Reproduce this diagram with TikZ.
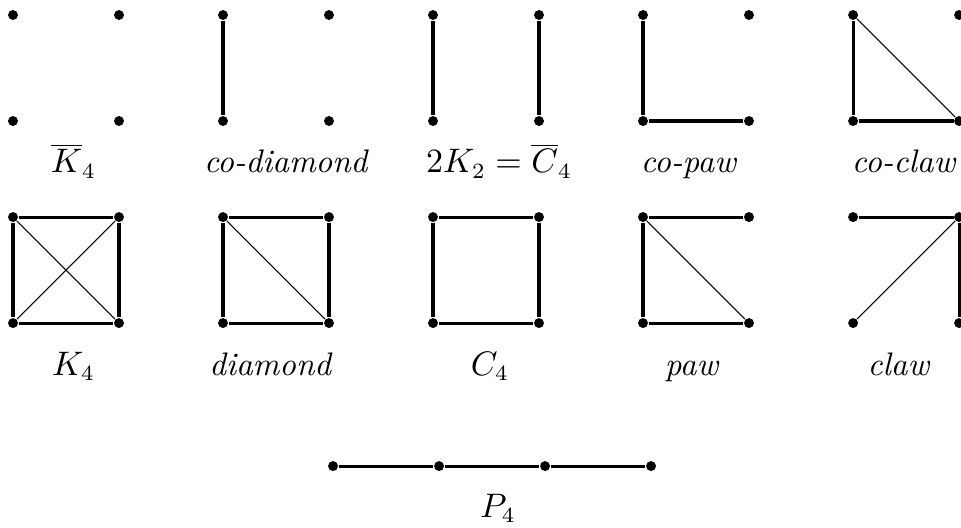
\documentclass[tikz,border=0pt]{standalone}
\usetikzlibrary{positioning}

\begin{document}
\begin{tikzpicture}[
  x=1.2cm, y=-1.2cm,
  vertex/.style={circle, fill, inner sep=0pt, minimum size=3.2pt},
  edge/.style={line width=1pt},
  diag/.style={line width=0.35pt},
  lab/.style={anchor=base, inner sep=0pt, font=\fontsize{10.5}{12}\selectfont}
]
\useasboundingbox (-0.1226,-0.1415) rectangle (8.943,4.83);
% four vertices per graph: tl, tr, bl, br
\foreach \g/\x/\y in {kb/0/0, cd/1.981/0, tk/3.962/0, cp/5.943/0, cc/7.925/0,
                      k/0/1.906, d/1.981/1.906, c/3.962/1.906, p/5.943/1.906, w/7.925/1.906} {
  \node[vertex] (\g-tl) at (\x,\y) {};
  \node[vertex] (\g-tr) at (\x+1,\y) {};
  \node[vertex] (\g-bl) at (\x,\y+1) {};
  \node[vertex] (\g-br) at (\x+1,\y+1) {};
}
% first row
\draw[edge] (cd-tl) -- (cd-bl);
\draw[edge] (tk-tl) -- (tk-bl);
\draw[edge] (tk-tr) -- (tk-br);
\draw[edge] (cp-tl) -- (cp-bl) -- (cp-br);
\draw[edge] (cc-tl) -- (cc-bl) -- (cc-br);
\draw[diag] (cc-tl) -- (cc-br);
% second row
\draw[edge] (k-tl) -- (k-tr) -- (k-br) -- (k-bl) -- (k-tl);
\draw[diag] (k-tl) -- (k-br);
\draw[diag] (k-tr) -- (k-bl);
\draw[edge] (d-tl) -- (d-tr) -- (d-br) -- (d-bl) -- (d-tl);
\draw[diag] (d-tl) -- (d-br);
\draw[edge] (c-tl) -- (c-tr) -- (c-br) -- (c-bl) -- (c-tl);
\draw[edge] (p-tr) -- (p-tl) -- (p-bl) -- (p-br);
\draw[diag] (p-tl) -- (p-br);
\draw[edge] (w-tl) -- (w-tr) -- (w-br);
\draw[diag] (w-tr) -- (w-bl);
% path on four vertices
\node[vertex] (p4a) at (3.019,4.255) {};
\node[vertex] (p4b) at (4.019,4.255) {};
\node[vertex] (p4c) at (5.019,4.255) {};
\node[vertex] (p4d) at (6.019,4.255) {};
\draw[edge] (p4a) -- (p4b) -- (p4c) -- (p4d);
% labels
\node[lab] (l-kb) at (0.571,1.49) {$\overline{K}_4$};
\node[lab] (l-cd) at (2.580,1.49) {\textit{co-diamond}};
\node[lab] (l-tk) at (4.585,1.49) {$2K_2=\overline{C}_4$};
\node[lab] (l-cp) at (6.377,1.49) {\textit{co-paw}};
\node[lab] (l-cc) at (8.406,1.49) {\textit{co-claw}};
\node[lab] (l-k) at (0.571,3.396) {$K_4$};
\node[lab] (l-d) at (2.434,3.396) {\textit{diamond}};
\node[lab] (l-c) at (4.5,3.396) {$C_4$};
\node[lab] (l-p) at (6.406,3.396) {\textit{paw}};
\node[lab] (l-w) at (8.358,3.396) {\textit{claw}};
\node[lab] (l-p4) at (4.575,4.736) {$P_4$};
\end{tikzpicture}
\end{document}
